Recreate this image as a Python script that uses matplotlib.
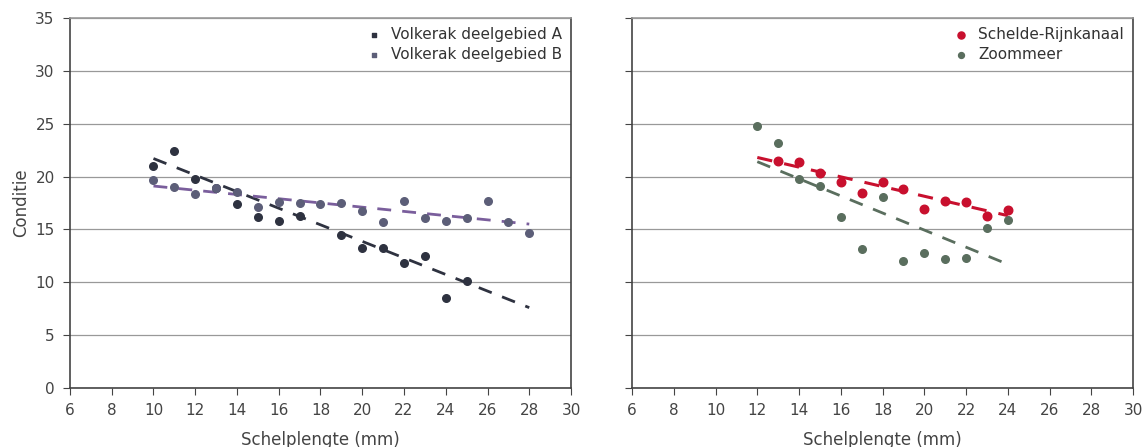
import numpy as np
import matplotlib.pyplot as plt

# links: Volkerak deelgebieden
xa = [10, 11, 12, 13, 14, 15, 16, 17, 19, 20, 21, 22, 23, 24, 25]
ya = [21.0, 22.4, 19.8, 18.9, 17.4, 16.2, 15.8, 16.3, 14.5, 13.2, 13.2, 11.8, 12.5, 8.5, 10.1]
xb = [10, 11, 12, 13, 14, 15, 16, 17, 18, 19, 20, 21, 22, 23, 24, 25, 26, 27, 28]
yb = [19.7, 19.0, 18.3, 18.9, 18.5, 17.1, 17.6, 17.5, 17.4, 17.5, 16.7, 15.7, 17.7, 16.1, 15.8, 16.1, 17.7, 15.7, 14.7]

# rechts: Schelde-Rijnkanaal en Zoommeer
xs = [13, 14, 15, 16, 17, 18, 19, 20, 21, 22, 23, 24]
ys = [21.5, 21.4, 20.3, 19.5, 18.4, 19.5, 18.8, 16.9, 17.7, 17.6, 16.3, 16.8]
xz = [12, 13, 14, 15, 16, 17, 18, 19, 20, 21, 22, 23, 24]
yz = [24.8, 23.2, 19.8, 19.1, 16.2, 13.1, 18.1, 12.0, 12.8, 12.2, 12.3, 15.1, 15.9]

trend_a = ([10, 28], [21.7, 7.6])
trend_b = ([10, 28], [19.1, 15.5])
trend_s = ([12, 24], [21.8, 16.3])
trend_z = ([12, 24], [21.4, 11.7])

c_a = '#2e3240'
c_b = '#5c5e78'
c_bl = '#7a5e9c'
c_s = '#c8102e'
c_z = '#5a6e5e'

fig = plt.figure(figsize=(11.45, 4.47), dpi=100)
ax1 = fig.add_axes([0.0611, 0.132, 0.4376, 0.828])
ax2 = fig.add_axes([0.552, 0.132, 0.4376, 0.828])


def opmaak(ax, labels=True):
    ax.set_xlim(6, 30)
    ax.set_ylim(0, 35)
    ax.set_xticks(np.arange(6, 31, 2))
    ax.set_yticks(np.arange(0, 36, 5))
    ax.grid(axis='y', color='#999999', linewidth=0.9)
    ax.set_axisbelow(True)
    for s in ax.spines.values():
        s.set_color('#444444')
        s.set_linewidth(1.2)
    ax.spines['top'].set_color('#999999')
    ax.tick_params(direction='out', length=5, pad=6, color='#444444', labelsize=11, labelcolor='#444444')
    if not labels:
        ax.tick_params(labelleft=False)
    ax.set_xlabel('Schelplengte (mm)', fontsize=12, color='#444444', labelpad=9)


opmaak(ax1)
ax1.set_ylabel('Conditie', fontsize=12, color='#444444')
ax1.plot(*trend_a, '--', color=c_a, lw=2, dashes=(5, 4))
ax1.plot(*trend_b, '--', color=c_bl, lw=2, dashes=(5, 4))
ax1.scatter(xa, ya, s=30, color=c_a, zorder=3)
ax1.scatter(xb, yb, s=30, color=c_b, zorder=3)
ax1.scatter([], [], marker='s', s=12, color=c_a, label='Volkerak deelgebied A')
ax1.scatter([], [], marker='s', s=12, color=c_b, label='Volkerak deelgebied B')
ax1.legend(loc='upper right', frameon=False, fontsize=11, handletextpad=0.1,
           borderaxespad=0.2, labelspacing=0.3, labelcolor='#333333')

opmaak(ax2, labels=False)
ax2.plot(*trend_s, '--', color=c_s, lw=2.2, dashes=(5, 4))
ax2.plot(*trend_z, '--', color=c_z, lw=2, dashes=(5, 4))
ax2.scatter(xs, ys, s=38, color=c_s, zorder=3)
ax2.scatter(xz, yz, s=30, color=c_z, zorder=3)
ax2.scatter([], [], marker='o', s=26, color=c_s, label='Schelde-Rijnkanaal')
ax2.scatter([], [], marker='o', s=18, color=c_z, label='Zoommeer')
ax2.legend(loc='upper right', frameon=False, fontsize=11, handletextpad=0.1,
           borderaxespad=0.2, labelspacing=0.3, labelcolor='#333333')

fig.savefig('out.png', dpi=100)
